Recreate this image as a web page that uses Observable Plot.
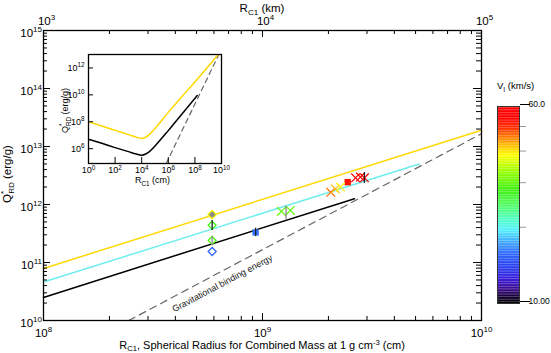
<!DOCTYPE html>
<html><head><meta charset="utf-8">
<script src="https://cdn.jsdelivr.net/npm/d3@7"></script>
<script src="https://cdn.jsdelivr.net/npm/@observablehq/plot@0.6"></script>
<style>
html,body{margin:0;padding:0;background:#fff;}
#wrap{position:relative;width:551px;height:353px;overflow:hidden;background:#fff;}
#wrap svg{position:absolute;display:block;max-width:none;}
</style></head><body><div id="wrap"></div>
<script>
const FONT = "'Liberation Sans', Arial, sans-serif";

// ---------- main lines: R_C1 (cm) vs Q*_RD (erg/g) ----------
const yellowR = [1e8, 1e10];
const yellowQ = [7.9e10, 1.9e13];
const cyanR = [1e8, 5.2e9];
const cyanQ = [4.6e10, 5.0e12];
const blackR = [1e8, 2.63e9];
const blackQ = [2.5e10, 1.26e12];
const gravR = [2.45e8, 1e10];
const gravQ = [1e10, 1.66e13];

// ---------- simulation points ----------
const markerR = [5.89e8, 5.89e8, 5.89e8, 5.89e8, 9.3e8, 1.22e9, 1.34e9, 2.05e9, 2.15e9, 2.27e9, 2.45e9, 2.66e9, 2.80e9, 2.92e9];
const markerQ = [6.7e11, 4.4e11, 2.4e11, 1.55e11, 3.3e11, 7.6e11, 7.9e11, 1.62e12, 1.86e12, 2.0e12, 2.43e12, 2.88e12, 2.97e12, 2.88e12];
const markerV = [38, 28, 29, 15.5, 16, 30, 30, 46, 42, 39, 52, 57, 56, 58];
const markerKind = ["grayDiamond", "openDiamond", "openDiamond", "openDiamond", "square", "x", "x", "x", "x", "x", "square", "x", "x", "x"];

// ---------- error bars ----------
const errR = [5.89e8, 5.89e8, 9.3e8, 1.28e9, 2.92e9];
const errLo = [3.55e11, 1.95e11, 2.8e11, 5.5e11, 2.3e12];
const errHi = [5.3e11, 2.8e11, 3.9e11, 9.3e11, 3.55e12];
const errShade = ["dark", "gray", "dark", "gray", "dark"];

// ---------- inset curves ----------
const insetYellowR = [1e0, 1e1, 1e2, 1e3, 4e3, 1e4, 2e4, 4e4, 1e5, 1e6, 1e7, 1e8, 1e9, 5.6e9];
const insetYellowQ = [1e8, 4.8e7, 2.3e7, 1.1e7, 7.1e6, 5.8e6, 7.1e6, 1.2e7, 3.2e7, 5e8, 7e9, 9e10, 1.26e12, 1e13];
const insetBlackR = [1e0, 1e1, 1e2, 1e3, 4e3, 1e4, 2e4, 4e4, 1e5, 1e6, 1e7, 1.5e8];
const insetBlackQ = [5e6, 2.5e6, 1.2e6, 6e5, 4e5, 3.3e5, 4e5, 6.3e5, 1.6e6, 2.2e7, 3.5e8, 9e9];
const insetGravR = [6.9e5, 6.3e9];
const insetGravQ = [7.9e4, 1e13];

// ---------- ticks / labels ----------
const xTickValues = [1e8, 1e9, 1e10];
const xTickLabels = ["10^8", "10^9", "10^10"];
const topTickLabels = ["10^3", "10^4", "10^5"];
const yTickValues = [1e10, 1e11, 1e12, 1e13, 1e14, 1e15];
const yTickLabels = ["10^10", "10^11", "10^12", "10^13", "10^14", "10^15"];
const insetXTickValues = [1e0, 1e2, 1e4, 1e6, 1e8, 1e10];
const insetXTickLabels = ["10^0", "10^2", "10^4", "10^6", "10^8", "10^10"];
const insetYTickValues = [1e6, 1e8, 1e10, 1e12];
const insetYTickLabels = ["10^6", "10^8", "10^10", "10^12"];
const cbTickValues = [10, 60];
const cbTickLabels = ["10.00", "60.0"];
const cbMinorTicks = [20, 30, 40, 50];

// ---------- colour table (V_I) ----------
const rampStops = [0, 0.03, 0.07, 0.12, 0.18, 0.26, 0.31, 0.37, 0.43, 0.50, 0.58, 0.66, 0.75, 0.80, 0.84, 0.89, 0.94, 1];
const rampColors = ["#000000", "#14002e", "#3a0a8a", "#3c1cd8", "#2a3cf0", "#3070ff", "#40a8ff", "#50f0ff", "#50ffc0", "#50ff60", "#40f010", "#90ff00", "#ffff00", "#ffc000", "#ff8000", "#ff3000", "#ff0000", "#ff0000"];
function rampInterp(t) {
  t = Math.max(0, Math.min(1, t));
  for (let i = 1; i < rampStops.length; i++) {
    if (t <= rampStops[i]) {
      const u = (t - rampStops[i - 1]) / (rampStops[i] - rampStops[i - 1] || 1);
      return d3.interpolateRgb(rampColors[i - 1], rampColors[i])(u);
    }
  }
  return rampColors[rampColors.length - 1];
}
const colorOpts = {type: "log", domain: [10, 60], interpolate: rampInterp};

// ---------- tables ----------
const zipT = (R, Q) => R.map((r, i) => ({R: r, Q: Q[i]}));
const markers = markerR.map((r, i) => ({R: r, Q: markerQ[i], V: markerV[i], kind: markerKind[i]}));
const errs = errR.map((r, i) => ({R: r, lo: errLo[i], hi: errHi[i], shade: errShade[i]}));
const mapOf = (vals, labs) => new Map(vals.map((v, i) => [v, labs[i]]));
const xLab = mapOf(xTickValues, xTickLabels), topLab = mapOf(xTickValues, topTickLabels);
const yLab = mapOf(yTickValues, yTickLabels);
const ixLab = mapOf(insetXTickValues, insetXTickLabels), iyLab = mapOf(insetYTickValues, insetYTickLabels);
const cbLab = mapOf(cbTickValues, cbTickLabels);

const isMajor = v => Math.abs(Math.log10(v) - Math.round(Math.log10(v))) < 1e-9;
const xAll = d3.scaleLog().domain([1e8, 1e10]).ticks();
const yAll = d3.scaleLog().domain([1e10, 1e15]).ticks();
const xMaj = xAll.filter(isMajor), xMin = xAll.filter(v => !isMajor(v));
const yMaj = yAll.filter(isMajor), yMin = yAll.filter(v => !isMajor(v));

const W = 551, H = 353, mL = 43, mR = 70, mT = 30, mB = 33;
const fW = W - mL - mR, fH = H - mT - mB;
const YEL = "#ffd800", CYA = "#70eeee";

const main = Plot.plot({
  width: W, height: H, marginLeft: mL, marginRight: mR, marginTop: mT, marginBottom: mB,
  x: {type: "log", domain: [1e8, 1e10], label: null},
  y: {type: "log", domain: [1e10, 1e15], label: null},
  color: colorOpts,
  style: {fontFamily: FONT, fontSize: "11.5px", background: "transparent", color: "black", overflow: "visible"},
  marks: [
    Plot.line(zipT(gravR, gravQ), {x: "R", y: "Q", stroke: "#666", strokeWidth: 1.2, strokeDasharray: "7,5", clip: true}),
    Plot.line(zipT(blackR, blackQ), {x: "R", y: "Q", stroke: "black", strokeWidth: 1.5}),
    Plot.line(zipT(cyanR, cyanQ), {x: "R", y: "Q", stroke: CYA, strokeWidth: 1.5}),
    Plot.line(zipT(yellowR, yellowQ), {x: "R", y: "Q", stroke: YEL, strokeWidth: 1.5}),
    Plot.text([{R: 6.56e8, Q: 4.35e10, t: "Gravitational binding energy"}], {x: "R", y: "Q", text: "t", rotate: -28, fontSize: 9, fill: "#222"}),
    Plot.dot(markers.filter(d => d.kind === "openDiamond"), {x: "R", y: "Q", symbol: "diamond2", r: 3.6, stroke: "V", fill: "white", strokeWidth: 1.3}),
    Plot.dot(markers.filter(d => d.kind === "grayDiamond"), {x: "R", y: "Q", symbol: "diamond2", r: 3.8, stroke: "V", fill: "#8a8a8a", strokeWidth: 1.3}),
    Plot.dot(markers.filter(d => d.kind === "square"), {x: "R", y: "Q", symbol: "square", r: 3.6, fill: "V"}),
    Plot.dot(markers.filter(d => d.kind === "x"), {x: "R", y: "Q", symbol: "times", r: 4, stroke: "V", strokeWidth: 1.2}),
    Plot.ruleX(errs.filter(d => d.shade === "dark"), {x: "R", y1: "lo", y2: "hi", stroke: "#222", strokeWidth: 1.3}),
    Plot.ruleX(errs.filter(d => d.shade === "gray"), {x: "R", y1: "lo", y2: "hi", stroke: "#888", strokeWidth: 1.3}),
    // inward ticks on all four sides
    Plot.tickX(xMaj, {x: d => d, insetTop: fH - 7}),
    Plot.tickX(xMin, {x: d => d, insetTop: fH - 4}),
    Plot.tickX(xMaj, {x: d => d, insetBottom: fH - 7}),
    Plot.tickX(xMin, {x: d => d, insetBottom: fH - 4}),
    Plot.tickY(yMaj, {y: d => d, insetRight: fW - 7}),
    Plot.tickY(yMin, {y: d => d, insetRight: fW - 4}),
    Plot.tickY(yMaj, {y: d => d, insetLeft: fW - 8}),
    Plot.tickY(yMin, {y: d => d, insetLeft: fW - 5}),
    Plot.frame({stroke: "black", strokeWidth: 1.3}),
    Plot.axisX(xTickValues, {anchor: "bottom", tickSize: 0, tickPadding: 8, tickFormat: d => xLab.get(d), label: null}),
    Plot.axisX(xTickValues, {anchor: "top", tickSize: 0, tickPadding: 6, dx: 3, tickFormat: d => topLab.get(d), label: null}),
    Plot.axisY(yTickValues, {anchor: "left", tickSize: 0, tickPadding: 1.5, dy: 2.5, tickFormat: d => yLab.get(d), label: null})
  ]
});

const inset = Plot.plot({
  width: 178, height: 142, marginLeft: 38, marginRight: 7, marginTop: 6, marginBottom: 27,
  x: {type: "log", domain: [1e0, 1e10], label: null},
  y: {type: "log", domain: [7.9e4, 1e13], label: null},
  style: {fontFamily: FONT, fontSize: "9px", background: "transparent", color: "black", overflow: "visible"},
  marks: [
    Plot.frame({fill: "white"}),
    Plot.line(zipT(insetGravR, insetGravQ), {x: "R", y: "Q", stroke: "#666", strokeWidth: 1.2, strokeDasharray: "5,4", clip: true}),
    Plot.line(zipT(insetBlackR, insetBlackQ), {x: "R", y: "Q", stroke: "black", strokeWidth: 1.5, curve: "monotone-x", clip: true}),
    Plot.line(zipT(insetYellowR, insetYellowQ), {x: "R", y: "Q", stroke: YEL, strokeWidth: 1.5, curve: "monotone-x", clip: true}),
    Plot.tickX(insetXTickValues, {x: d => d, insetTop: 103}),
    Plot.tickY(insetYTickValues, {y: d => d, insetRight: 128}),
    Plot.frame({stroke: "black", strokeWidth: 1.3}),
    Plot.axisX(insetXTickValues, {anchor: "bottom", tickSize: 0, tickPadding: 3.5, tickFormat: d => ixLab.get(d), label: null}),
    Plot.axisY(insetYTickValues, {anchor: "left", tickSize: 0, tickPadding: 4, tickFormat: d => iyLab.get(d), label: null})
  ]
});

const edges = d3.range(0, 121).map(i => 10 * Math.pow(6, i / 120));
const bands = edges.slice(1).map((e, i) => ({lo: edges[i], hi: e, mid: Math.sqrt(edges[i] * e)}));
const cbar = Plot.plot({
  width: 71, height: 245, marginLeft: 17, marginRight: 32, marginTop: 36, marginBottom: 12,
  y: {type: "log", domain: [10, 60], label: null},
  color: colorOpts,
  style: {fontFamily: FONT, fontSize: "8.5px", background: "transparent", color: "black", overflow: "visible"},
  marks: [
    Plot.rect(bands, {y1: "lo", y2: "hi", fill: "mid"}),
    Plot.frame({stroke: "#333", strokeWidth: 1}),
    Plot.axisY(cbMinorTicks, {anchor: "right", tickSize: 6, stroke: "#999", tickFormat: () => "", label: null}),
    Plot.axisY(cbTickValues, {anchor: "right", tickSize: 10, tickPadding: -1, dy: -2, tickFormat: d => cbLab.get(d), label: null})
  ]
});

const wrap = document.getElementById("wrap");
for (const [svg, l, t] of [[main, 0, 0], [inset, 50, 48], [cbar, 480, 70]]) {
  svg.style.left = l + "px"; svg.style.top = t + "px";
  svg.style.width = svg.getAttribute("width") + "px";
  svg.style.height = svg.getAttribute("height") + "px";
  wrap.appendChild(svg);
}

function supify(svg, supSize, supDy) {
  d3.select(svg).selectAll("text").each(function () {
    const s = this.textContent;
    const i = s.indexOf("^");
    if (i < 0) return;
    while (this.firstChild) this.removeChild(this.firstChild);
    const sel = d3.select(this);
    sel.append("tspan").text(s.slice(0, i));
    sel.append("tspan").attr("dy", supDy).attr("font-size", supSize).text(s.slice(i + 1));
  });
}
supify(main, 8, -5);
supify(inset, 6.3, -3.5);

function addRich(svg, x, y, parts, size, anchor = "middle", rotate = 0, subK = 0.3) {
  const t = d3.select(svg).append("text")
    .attr("font-family", FONT).attr("font-size", size).attr("text-anchor", anchor).attr("fill", "black")
    .attr("transform", `translate(${x},${y}) rotate(${rotate})`);
  let shift = 0;
  for (const p of parts) {
    const target = p.sub ? size * subK : p.sup ? -size * 0.4 : 0;
    const ts = t.append("tspan").text(p.t).attr("dy", target - shift);
    if (p.sub || p.sup) ts.attr("font-size", size * 0.7);
    if (p.dx) ts.attr("dx", p.dx);
    shift = target;
  }
}
addRich(main, 262, 12, [{t: "R"}, {t: "C1", sub: true}, {t: " (km)"}], 11.5);
addRich(main, 262, 349, [{t: "R"}, {t: "C1", sub: true}, {t: ", Spherical Radius for Combined Mass at 1 g cm"}, {t: "-3", sup: true}, {t: " (cm)"}], 11, "middle", 0, 0.2);
addRich(main, 11, 174, [{t: "Q"}, {t: "*", sup: true}, {t: "RD", sub: true, dx: -3}, {t: " (erg/g)"}], 11.5, "middle", -90);
addRich(inset, 102.5, 135, [{t: "R"}, {t: "C1", sub: true}, {t: " (cm)"}], 9);
addRich(inset, 18, 62.5, [{t: "Q"}, {t: "*", sup: true}, {t: "RD", sub: true, dx: -2.5}, {t: " (erg/g)"}], 9, "middle", -90);
addRich(cbar, 17, 19, [{t: "V"}, {t: "I", sub: true}, {t: " (km/s)"}], 9.5, "start");
</script></body></html>
